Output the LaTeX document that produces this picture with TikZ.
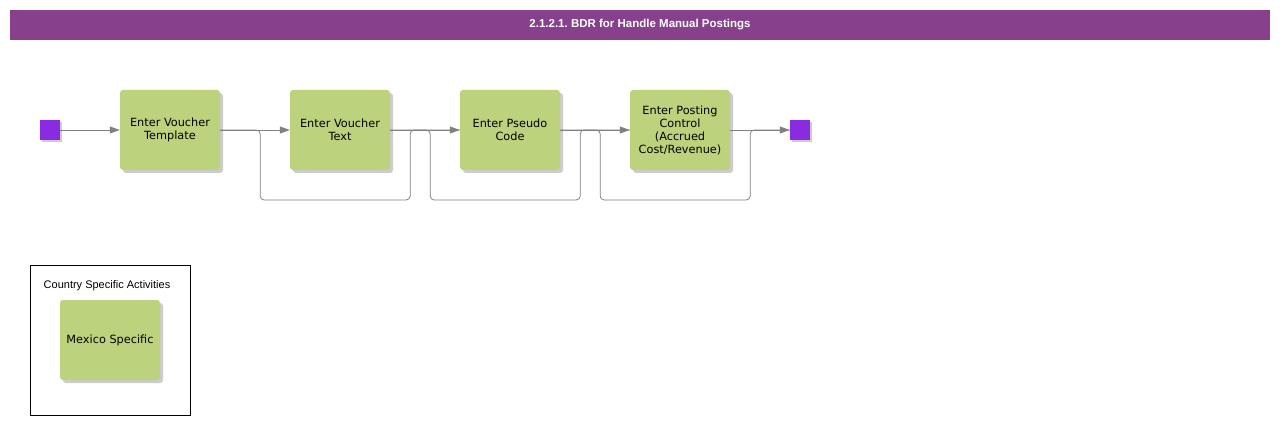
\documentclass[tikz,border=0pt]{standalone}
\usepackage{fontspec}
\newfontfamily\boxfont{DejaVu Sans}
\newfontfamily\headfont{Liberation Sans}
\usetikzlibrary{arrows.meta,shadows}
\frenchspacing

\definecolor{headpurple}{RGB}{135,64,139}
\definecolor{startviolet}{RGB}{138,43,226}
\definecolor{actgreen}{RGB}{189,210,124}
\definecolor{linegray}{RGB}{128,128,128}

\tikzset{
  activity/.style={rectangle, rounded corners=3pt, fill=actgreen,
    minimum width=100pt, minimum height=80pt, align=center,
    font=\boxfont\fontsize{11.3}{13}\selectfont,
    drop shadow={shadow xshift=3pt, shadow yshift=-3pt, fill=black!20, opacity=1}},
  terminal/.style={rectangle, fill=startviolet, minimum size=20pt, inner sep=0pt,
    drop shadow={shadow xshift=2pt, shadow yshift=-2pt, fill=black!20, opacity=1}},
  flow/.style={draw=linegray, line width=0.8pt, -{Triangle[length=10pt,width=7pt]}},
  skip/.style={draw=linegray, line width=0.8pt, rounded corners=4pt}
}

\begin{document}
\begin{tikzpicture}[x=1pt,y=-1pt]
\useasboundingbox (0,0) rectangle (1280,425);

\node[fill=headpurple, minimum width=1260pt, minimum height=30pt, inner sep=0pt,
  text=white, font=\headfont\bfseries\fontsize{11.5}{13}\selectfont] (title) at (640,25)
  {\raisebox{-1.5pt}{2.1.2.1. BDR for Handle Manual Postings}};

\node[terminal] (start) at (50,130) {};
\node[activity] (vtemplate) at (170,130) {Enter Voucher\\Template};
\node[activity] (vtext) at (340,130) {Enter Voucher\\Text};
\node[activity] (pseudo) at (510,130) {Enter Pseudo\\Code};
\node[activity] (control) at (680,130) {Enter Posting\\Control\\(Accrued\\Cost/Revenue)};
\node[terminal] (end) at (800,130) {};

\draw[flow] (start) -- (vtemplate);
\draw[flow] (vtemplate) -- (vtext);
\draw[flow] (vtext) -- (pseudo);
\draw[flow] (pseudo) -- (control);
\draw[flow] (control) -- (end);

\draw[skip] (vtemplate.east) -- ++(40,0) -- ++(0,70) -- ++(150,0) -- ++(0,-70) -- (pseudo.west);
\draw[skip] (vtext.east) -- ++(40,0) -- ++(0,70) -- ++(150,0) -- ++(0,-70) -- (control.west);
\draw[skip] (pseudo.east) -- ++(40,0) -- ++(0,70) -- ++(150,0) -- ++(0,-70) -- (end.west);

% legend
\node[draw=black, line width=0.8pt, minimum width=160pt, minimum height=150pt] (legend) at (110,340) {};
\node[font=\headfont\fontsize{11}{13}\selectfont] (legendtitle) at (107,286) {Country Specific Activities};
\node[activity] (mexico) at (110,340) {Mexico Specific};
\end{tikzpicture}
\end{document}
